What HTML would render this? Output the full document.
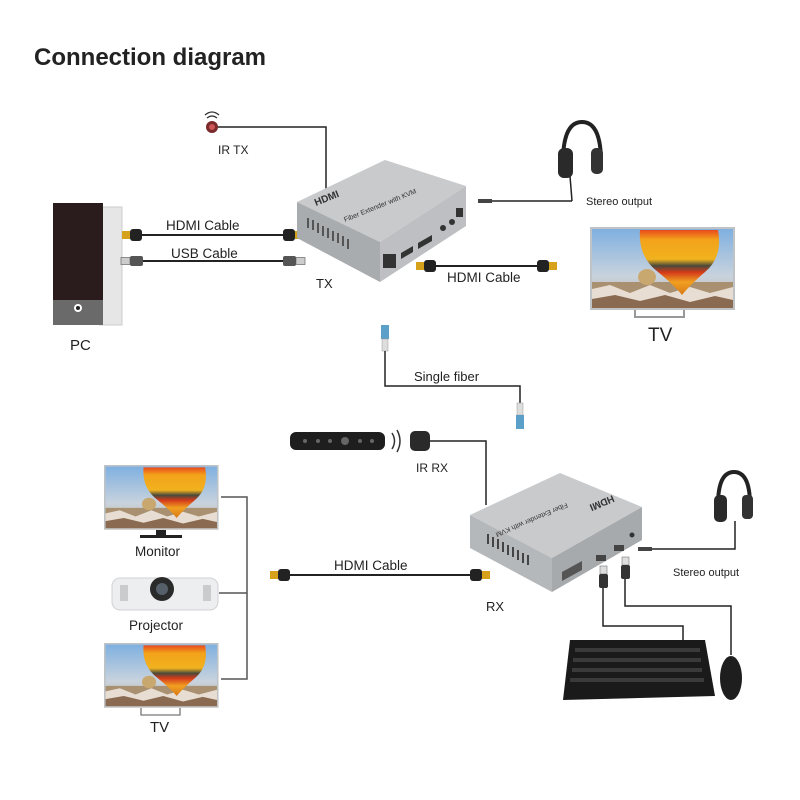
<!DOCTYPE html>
<html><head><meta charset="utf-8"><style>
html,body{margin:0;padding:0;background:#fff;}
svg{display:block;font-family:"Liberation Sans",Arial,sans-serif;}
</style></head><body>
<svg width="800" height="800" viewBox="0 0 800 800" xmlns="http://www.w3.org/2000/svg">
<defs>
<linearGradient id="sky" x1="0" y1="0" x2="0" y2="1"><stop offset="0" stop-color="#7fb0e0"/><stop offset="0.6" stop-color="#c9d3dd"/><stop offset="1" stop-color="#b8a890"/></linearGradient>
<linearGradient id="ball" x1="0" y1="0" x2="0" y2="1"><stop offset="0" stop-color="#e84a1c"/><stop offset="0.15" stop-color="#f3a21a"/><stop offset="0.45" stop-color="#f1b21e"/><stop offset="0.55" stop-color="#4a4a3a"/><stop offset="0.65" stop-color="#d43a1a"/><stop offset="0.8" stop-color="#f0a020"/><stop offset="1" stop-color="#d87818"/></linearGradient>
<g id="scr">
<rect x="0" y="0" width="145" height="83" fill="#bfc3c6"/>
<rect x="2" y="2" width="141" height="79" fill="url(#sky)"/>
<rect x="2" y="55" width="141" height="26" fill="#a89070"/>
<path d="M2 62 L20 58 L40 66 L60 58 L80 66 L100 60 L120 66 L143 60 L143 81 L2 81Z" fill="#e8ddd2"/>
<path d="M2 72 L25 68 L50 74 L75 68 L100 75 L125 69 L143 73 L143 81 L2 81Z" fill="#8a6a50"/>
<ellipse cx="57" cy="50" rx="9" ry="8" fill="#c9a870"/>
<path d="M50 3 L128 3 Q133 30 115 45 Q100 58 92 68 Q84 58 68 45 Q48 30 50 3Z" fill="url(#ball)"/>
</g>
<g id="hdmi"><rect x="0" y="-4" width="8" height="8" fill="#d6a21c"/><rect x="8" y="-6" width="12" height="12" rx="3" fill="#222"/></g>
<g id="usb"><rect x="0" y="-3.5" width="9" height="7" fill="#ccc" stroke="#777" stroke-width="0.8"/><rect x="9" y="-5" width="13" height="10" rx="2" fill="#555"/></g>
</defs>

<text x="34" y="65" font-size="24" font-weight="bold" fill="#222">Connection diagram</text>

<!-- PC -->
<rect x="100" y="207" width="22" height="118" fill="#e6e6e6" stroke="#ccc"/>
<rect x="53" y="203" width="50" height="100" fill="#2a1c1c"/>
<rect x="53" y="300" width="50" height="25" fill="#6a6a6a"/>
<circle cx="78" cy="308" r="4" fill="#fff"/><circle cx="78" cy="308" r="2" fill="#222"/>
<text x="70" y="350" font-size="15" fill="#222">PC</text>

<line x1="136" y1="235" x2="285" y2="235" stroke="#222" stroke-width="2"/>
<use href="#hdmi" transform="translate(122,235)"/>
<use href="#hdmi" transform="translate(303,235) scale(-1,1)"/>
<text x="166" y="230" font-size="13.5" fill="#222">HDMI Cable</text>
<line x1="140" y1="261" x2="285" y2="261" stroke="#222" stroke-width="2"/>
<use href="#usb" transform="translate(121,261)"/>
<use href="#usb" transform="translate(305,261) scale(-1,1)"/>
<text x="171" y="258" font-size="13.5" fill="#222">USB Cable</text>

<circle cx="212" cy="127" r="6" fill="#7a2a2a"/><circle cx="212" cy="127" r="3" fill="#c55"/>
<path d="M205 115 Q212 109 219 115 M207 118 Q212 114 217 118" stroke="#333" fill="none" stroke-width="1.3"/>
<polyline points="218,127 326,127 326,190" stroke="#222" stroke-width="1.5" fill="none"/>
<text x="218" y="154" font-size="12" fill="#222">IR TX</text>

<polygon points="297,202 385,160 466,186 380,242" fill="#c8cacc"/>
<polygon points="297,202 380,242 380,282 297,238" fill="#a9acaf"/>
<polygon points="380,242 466,186 466,226 380,282" fill="#bdbfc2"/>
<text x="316" y="206" font-size="10" font-weight="bold" fill="#333" transform="rotate(-22 316 206)">HDMI</text>
<text x="345" y="222" font-size="7" fill="#333" transform="rotate(-22 345 222)">Fiber Extender with KVM</text>
<g fill="#555"><rect x="307" y="218" width="2" height="10"/><rect x="312" y="220" width="2" height="10"/><rect x="317" y="223" width="2" height="10"/><rect x="322" y="226" width="2" height="10"/><rect x="327" y="228" width="2" height="10"/><rect x="332" y="231" width="2" height="10"/><rect x="337" y="233" width="2" height="10"/><rect x="342" y="236" width="2" height="10"/><rect x="347" y="239" width="2" height="10"/></g>
<rect x="383" y="254" width="13" height="14" fill="#333"/>
<polygon points="401,253 413,246 413,252 401,259" fill="#333"/>
<polygon points="418,243 432,235 432,241 418,249" fill="#333"/>
<circle cx="443" cy="228" r="3" fill="#333"/><circle cx="452" cy="222" r="3" fill="#333"/>
<rect x="456" y="208" width="7" height="9" fill="#333"/>
<text x="316" y="288" font-size="13" fill="#222">TX</text>

<path d="M563 162 Q563 122 582 122 Q601 122 601 162" stroke="#222" stroke-width="4" fill="none"/>
<rect x="558" y="148" width="15" height="30" rx="6" fill="#2a2a2a"/><rect x="591" y="148" width="12" height="26" rx="5" fill="#333"/>
<line x1="570" y1="176" x2="572" y2="201" stroke="#222" stroke-width="1.5"/>
<line x1="490" y1="201" x2="572" y2="201" stroke="#222" stroke-width="1.5"/>
<rect x="478" y="199" width="14" height="4" fill="#444"/>
<text x="586" y="205" font-size="11" fill="#222">Stereo output</text>

<use href="#scr" transform="translate(590,227)"/>
<rect x="634" y="310" width="2" height="8" fill="#999"/><rect x="683" y="310" width="2" height="8" fill="#999"/><rect x="634" y="316" width="51" height="2" fill="#999"/>
<text x="648" y="341" font-size="19" fill="#222">TV</text>
<line x1="433" y1="266" x2="545" y2="266" stroke="#222" stroke-width="2"/>
<use href="#hdmi" transform="translate(416,266)"/>
<use href="#hdmi" transform="translate(557,266) scale(-1,1)"/>
<text x="447" y="282" font-size="13.5" fill="#222">HDMI Cable</text>

<rect x="381" y="325" width="8" height="14" fill="#5aa0c8"/><rect x="382" y="339" width="6" height="12" fill="#ddd" stroke="#999" stroke-width="0.5"/>
<polyline points="385,351 385,386 520,386 520,403" stroke="#222" stroke-width="1.5" fill="none"/>
<rect x="517" y="403" width="6" height="12" fill="#ddd" stroke="#999" stroke-width="0.5"/><rect x="516" y="415" width="8" height="14" fill="#5aa0c8"/>
<text x="414" y="381" font-size="13" fill="#222">Single fiber</text>

<rect x="290" y="432" width="95" height="18" rx="6" fill="#1e1e1e"/>
<g fill="#666"><circle cx="305" cy="441" r="2"/><circle cx="318" cy="441" r="2"/><circle cx="330" cy="441" r="2"/><circle cx="345" cy="441" r="4"/><circle cx="360" cy="441" r="2"/><circle cx="372" cy="441" r="2"/></g>
<path d="M392 433 Q397 441 392 449 M397 430 Q403 441 397 452" stroke="#333" fill="none" stroke-width="1.5"/>
<rect x="410" y="431" width="20" height="20" rx="5" fill="#2a2a2a"/>
<polyline points="430,441 486,441 486,505" stroke="#222" stroke-width="1.5" fill="none"/>
<text x="416" y="472" font-size="12" fill="#222">IR RX</text>

<polygon points="470,515 560,473 642,507 552,558" fill="#c8cacc"/>
<polygon points="470,515 552,558 552,592 470,548" fill="#b5b8bb"/>
<polygon points="552,558 642,507 642,540 552,592" fill="#a7aaad"/>
<text x="578" y="522" font-size="10" font-weight="bold" fill="#333" transform="rotate(157 598 512)">HDMI</text>
<text x="530" y="520" font-size="7" fill="#333" transform="rotate(157 550 515)">Fiber Extender with KVM</text>
<g fill="#444"><rect x="487" y="534" width="2" height="10"/><rect x="492" y="537" width="2" height="10"/><rect x="497" y="539" width="2" height="10"/><rect x="502" y="542" width="2" height="10"/><rect x="507" y="545" width="2" height="10"/><rect x="512" y="547" width="2" height="10"/><rect x="517" y="550" width="2" height="10"/><rect x="522" y="553" width="2" height="10"/><rect x="527" y="555" width="2" height="10"/></g>
<polygon points="562,572 582,561 582,570 562,581" fill="#555"/>
<rect x="596" y="555" width="10" height="6" fill="#444"/><rect x="614" y="545" width="10" height="6" fill="#444"/>
<circle cx="632" cy="535" r="2.5" fill="#333"/>
<text x="486" y="611" font-size="13" fill="#222">RX</text>

<path d="M718 505 Q718 472 734 472 Q750 472 750 505" stroke="#222" stroke-width="4" fill="none"/>
<rect x="714" y="495" width="13" height="27" rx="5" fill="#2a2a2a"/><rect x="742" y="495" width="11" height="24" rx="4" fill="#333"/>
<polyline points="650,549 735,549 735,521" stroke="#222" stroke-width="1.5" fill="none"/>
<rect x="638" y="547" width="14" height="4" fill="#444"/>
<text x="673" y="576" font-size="11" fill="#222">Stereo output</text>

<rect x="600" y="566" width="7" height="8" fill="#ddd" stroke="#777" stroke-width="0.6"/><rect x="599" y="574" width="9" height="14" rx="2" fill="#333"/>
<rect x="622" y="557" width="7" height="8" fill="#ddd" stroke="#777" stroke-width="0.6"/><rect x="621" y="565" width="9" height="14" rx="2" fill="#333"/>
<polyline points="603,588 603,626 683,626 683,640" stroke="#222" stroke-width="1.5" fill="none"/>
<polyline points="625,579 625,606 731,606 731,655" stroke="#222" stroke-width="1.5" fill="none"/>
<polygon points="570,640 705,640 715,696 563,700" fill="#1a1a1a"/>
<g fill="#3a3a3a"><rect x="575" y="648" width="125" height="4"/><rect x="573" y="658" width="128" height="4"/><rect x="572" y="668" width="130" height="4"/><rect x="570" y="678" width="134" height="4"/></g>
<ellipse cx="731" cy="678" rx="11" ry="22" fill="#1e1e1e"/>

<use href="#scr" transform="translate(104,465) scale(0.79,0.78)"/>
<rect x="156" y="530" width="10" height="6" fill="#222"/><rect x="140" y="535" width="42" height="3" fill="#222"/>
<text x="135" y="556" font-size="13.5" fill="#222">Monitor</text>
<rect x="112" y="578" width="106" height="32" rx="8" fill="#eceeef" stroke="#d0d2d4"/>
<circle cx="162" cy="589" r="12" fill="#2a2a2a"/><circle cx="162" cy="589" r="6" fill="#55606a"/>
<rect x="120" y="585" width="8" height="16" fill="#c9cbcd"/><rect x="203" y="585" width="8" height="16" fill="#c9cbcd"/>
<text x="129" y="630" font-size="13.5" fill="#222">Projector</text>
<use href="#scr" transform="translate(104,643) scale(0.79,0.78)"/>
<polyline points="141,708 141,715 180,715 180,708" stroke="#777" fill="none" stroke-width="1.3"/>
<text x="150" y="732" font-size="15" fill="#222">TV</text>
<polyline points="221,497 247,497 247,679 221,679" stroke="#555" stroke-width="1.5" fill="none"/>
<line x1="219" y1="593" x2="247" y2="593" stroke="#555" stroke-width="1.5"/>

<line x1="290" y1="575" x2="472" y2="575" stroke="#222" stroke-width="2"/>
<use href="#hdmi" transform="translate(270,575)"/>
<use href="#hdmi" transform="translate(490,575) scale(-1,1)"/>
<text x="334" y="570" font-size="13.5" fill="#222">HDMI Cable</text>
</svg>
</body></html>
